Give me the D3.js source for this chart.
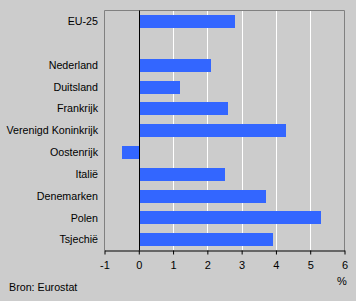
<!DOCTYPE html>
<html>
<head>
<meta charset="utf-8">
<script src="https://cdn.jsdelivr.net/npm/d3@7"></script>
<style>
  body { margin: 0; background: #cccccc; }
  svg { display: block; font-family: "Liberation Sans", Arial, sans-serif; font-size: 11px; }
</style>
</head>
<body>
<svg id="chart" width="356" height="301"></svg>
<script>
// categories, "" is the empty row under EU-25
var categories = ["EU-25", "", "Nederland", "Duitsland", "Frankrijk", "Verenigd Koninkrijk",
                  "Oostenrijk", "Italië", "Denemarken", "Polen", "Tsjechië"];
var values = [2.8, null, 2.1, 1.2, 2.6, 4.3, -0.5, 2.5, 3.7, 5.3, 3.9];
var tickValues = [-1, 0, 1, 2, 3, 4, 5, 6];

var svg = d3.select("#chart");
var m = {left: 104.5, right: 344.5, top: 10.5, bottom: 250.5};

var x = d3.scaleLinear().domain([-1, 6]).range([m.left, m.right]);
var y = d3.scaleBand().domain(d3.range(categories.length)).range([m.top, m.bottom]).paddingInner(0.42).paddingOuter(0.21);

// gridlines
svg.append("g").selectAll("line")
  .data(tickValues.filter(function(d) { return d > 0 && d < 6; }))
  .enter().append("line")
  .attr("x1", function(d) { return Math.round(x(d)) + 0.5; })
  .attr("x2", function(d) { return Math.round(x(d)) + 0.5; })
  .attr("y1", m.top).attr("y2", m.bottom)
  .attr("stroke", "#ffffff").attr("stroke-width", 1);

// frame (grey)
svg.append("path")
  .attr("d", "M" + m.left + "," + m.bottom + "V" + m.top + "H" + m.right + "V" + m.bottom)
  .attr("fill", "none").attr("stroke", "#808080").attr("stroke-width", 1);

// bars
svg.append("g").selectAll("rect")
  .data(values.map(function(v, i) { return {v: v, i: i}; }).filter(function(d) { return d.v !== null; }))
  .enter().append("rect")
  .attr("x", function(d) { return d.v >= 0 ? Math.round(x(0)) + 1 : Math.round(x(d.v)); })
  .attr("width", function(d) { return Math.abs(Math.round(x(d.v)) - Math.round(x(0))) - (d.v >= 0 ? 1 : 0); })
  .attr("y", function(d) { return Math.round(y(d.i)); })
  .attr("height", Math.round(y.bandwidth()))
  .attr("fill", "#3366ff");

// zero line
svg.append("line")
  .attr("x1", Math.round(x(0)) + 0.5).attr("x2", Math.round(x(0)) + 0.5)
  .attr("y1", m.top).attr("y2", m.bottom)
  .attr("stroke", "#000000");

// category labels
svg.append("g").selectAll("text")
  .data(categories)
  .enter().append("text")
  .attr("x", 98)
  .attr("y", function(d, i) { return y(i) + y.bandwidth() / 2; })
  .attr("dy", "0.35em")
  .attr("text-anchor", "end")
  .attr("fill", "#000")
  .attr("font-size", 10.7)
  .text(function(d) { return d; });

// x axis
var axis = d3.axisBottom(x).tickValues(tickValues).tickFormat(function(d) { return String(d); })
  .tickSize(4).tickSizeOuter(0).tickPadding(7);
var gx = svg.append("g").attr("transform", "translate(0," + m.bottom + ")").call(axis);
gx.select(".domain").attr("stroke", "#000");
gx.selectAll(".tick line").attr("stroke", "#000");
gx.selectAll("text").attr("font-size", 11).attr("font-family", "Liberation Sans, Arial, sans-serif").attr("fill", "#000");

svg.append("text").attr("x", 342).attr("y", 285).attr("text-anchor", "middle").text("%");
svg.append("text").attr("x", 9).attr("y", 291).attr("font-size", 10.7).text("Bron: Eurostat");
</script>
</body>
</html>
